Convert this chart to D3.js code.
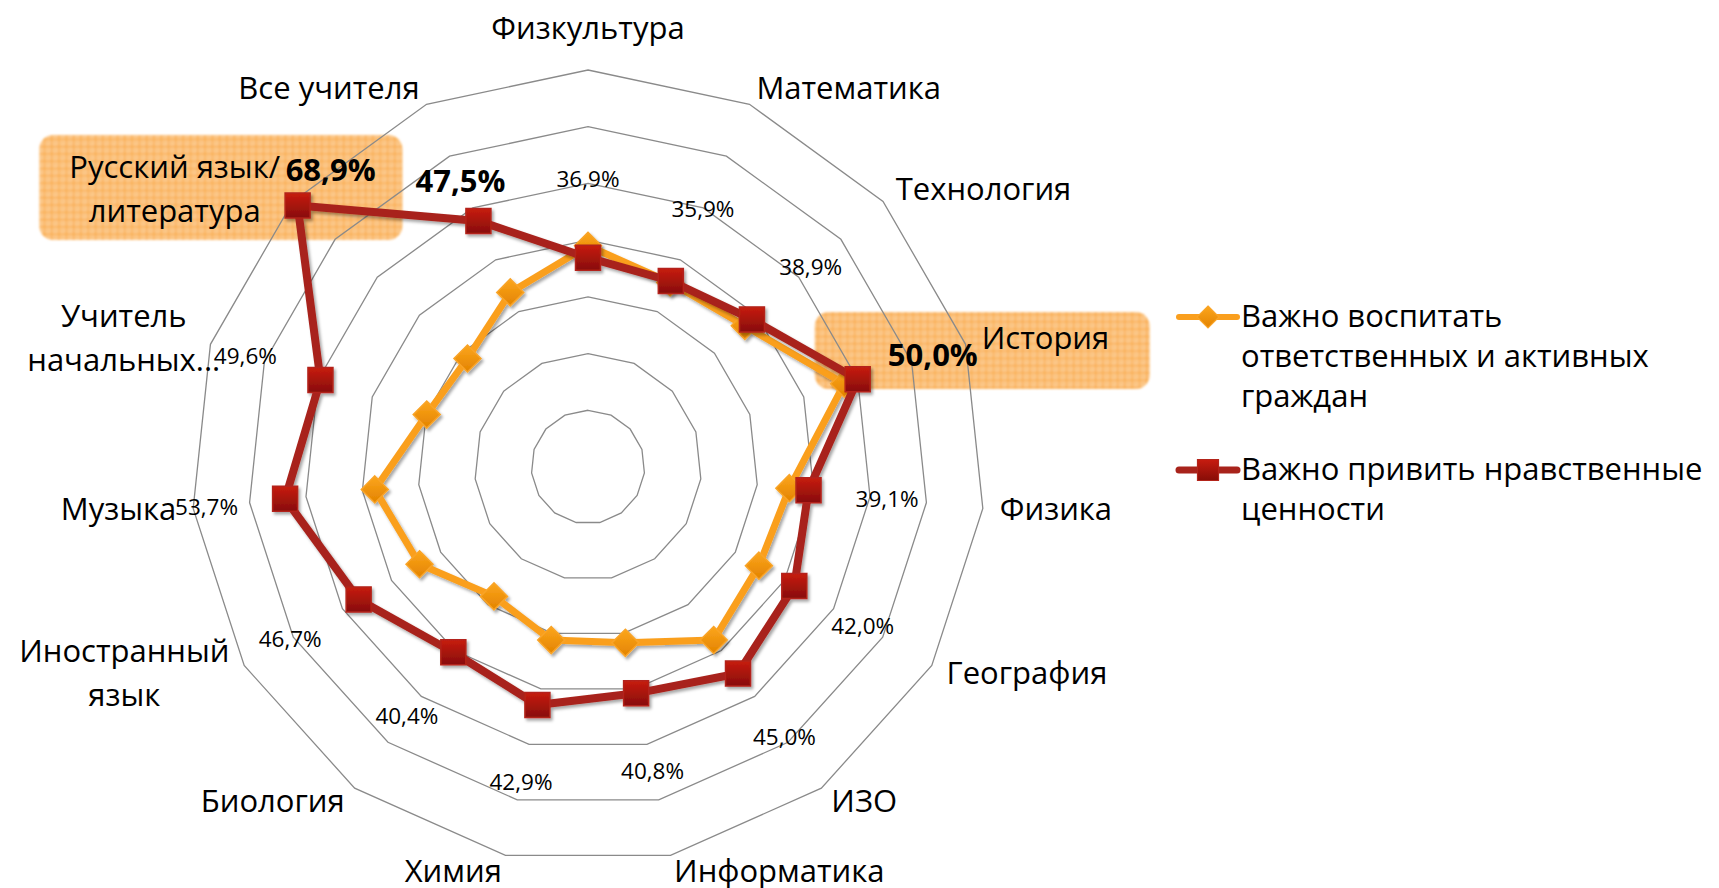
<!DOCTYPE html>
<html lang="ru">
<head>
<meta charset="utf-8">
<script src="https://cdn.jsdelivr.net/npm/d3@7"></script>
<style>
  html, body { margin: 0; padding: 0; background: #fff; }
  svg { display: block; font-family: "Open Sans", "Noto Sans", sans-serif; }
</style>
</head>
<body>
<div id="chart"></div>
<script>
// categories clockwise, starting at the top
const categories = ["Физкультура", "Математика", "Технология", "История", "Физика", "География", "ИЗО",
    "Информатика", "Химия", "Биология", "Иностранный язык", "Музыка", "Учитель начальных...",
    "Русский язык/литература", "Все учителя"];

// how the axis labels wrap
const categoryLines = [["Физкультура"], ["Математика"], ["Технология"], ["История"], ["Физика"],
    ["География"], ["ИЗО"], ["Информатика"], ["Химия"], ["Биология"], ["Иностранный", "язык"],
    ["Музыка"], ["Учитель", "начальных..."], ["Русский язык/", "литература"], ["Все учителя"]];

const seriesNames = ["Важно воспитать ответственных и активных граждан", "Важно привить нравственные ценности"];
const legendLines = [["Важно воспитать", "ответственных и активных", "граждан"],
    ["Важно привить нравственные", "ценности"]];

// % of teachers
const citizens = [39.0, 35.6, 37.2, 47.5, 35.7, 34.8, 37.7, 31.7, 31.2, 28.2, 34.3, 37.8, 29.9, 28.6, 33.7];
const morals = [36.9, 35.9, 38.9, 50.0, 39.1, 42.0, 45.0, 40.8, 42.9, 40.4, 46.7, 53.7, 49.6, 68.9, 47.5];

const gridTicks = [10, 20, 30, 40, 50, 60, 70];

const highlighted = ["История", "Русский язык/литература"];
const boldLabels = ["История", "Русский язык/литература", "Все учителя"];

// layout
const width = 1719;
const height = 888;
const cx = 588, cy = 467;
const radius = 397;
const labelGap = 17;
const valueGap = 79;

const ru = d3.formatLocale({ decimal: ",", thousands: " ", grouping: [3], currency: ["", " ₽"] });
const fmt = v => ru.format(".1f")(v) + "%";

const r = d3.scaleLinear().domain([0, 70]).range([0, radius]);
const angle = d3.scaleLinear().domain([0, categories.length]).range([0, 2 * Math.PI]);

const svg = d3.select("#chart")
    .append("svg")
    .attr("width", width)
    .attr("height", height);

const defs = svg.append("defs");

const pat = defs.append("pattern")
    .attr("id", "grid-fill")
    .attr("patternUnits", "userSpaceOnUse")
    .attr("width", 7.3).attr("height", 7.3);
pat.append("rect").attr("width", 7.3).attr("height", 7.3).attr("fill", "#fcc88a");
pat.append("path").attr("d", "M0,0.5H7.3M0.5,0V7.3").attr("stroke", "#f8a845").attr("stroke-width", 1.2);
pat.append("rect").attr("x", 3).attr("y", 3).attr("width", 1.4).attr("height", 1.4).attr("fill", "#fbb96a");

const soft = defs.append("filter").attr("id", "soft")
    .attr("x", "-5%").attr("y", "-10%").attr("width", "110%").attr("height", "120%");
soft.append("feGaussianBlur").attr("stdDeviation", 1.3);

const shadow = defs.append("filter").attr("id", "shadow")
    .attr("x", "-10%").attr("y", "-10%").attr("width", "130%").attr("height", "130%");
shadow.append("feDropShadow").attr("dx", 2).attr("dy", 2.5).attr("stdDeviation", 1.6)
    .attr("flood-color", "#000").attr("flood-opacity", 0.35);

const gRed = defs.append("linearGradient").attr("id", "g-red").attr("x1", 0).attr("y1", 0).attr("x2", 0).attr("y2", 1);
gRed.append("stop").attr("offset", "0%").attr("stop-color", "#c71c10");
gRed.append("stop").attr("offset", "100%").attr("stop-color", "#870d07");
const gOr = defs.append("linearGradient").attr("id", "g-orange").attr("x1", 0).attr("y1", 0).attr("x2", 0).attr("y2", 1);
gOr.append("stop").attr("offset", "0%").attr("stop-color", "#fca61c");
gOr.append("stop").attr("offset", "100%").attr("stop-color", "#e38300");

const boxLayer = svg.append("g");
const chart = svg.append("g").attr("transform", `translate(${cx},${cy})`);

// grid rings
const ring = d3.lineRadial()
    .angle((d, i) => angle(i))
    .radius(d => r(d))
    .curve(d3.curveLinearClosed);

chart.append("g").attr("class", "grid")
    .selectAll("path")
    .data(gridTicks)
    .enter().append("path")
    .attr("d", t => ring(categories.map(() => t)))
    .attr("fill", "none")
    .attr("stroke", "#8a8a8a")
    .attr("stroke-width", 1.3);

// highlight boxes behind the highlighted labels, relative to the label anchor
const boxPad = {
    "История": [-167, -27, 168, 50],
    "Русский язык/литература": [-241, -55, 122, 50]
};
highlighted.forEach(name => {
    const i = categories.indexOf(name);
    const p = d3.pointRadial(angle(i), radius + labelGap);
    const b = boxPad[name];
    boxLayer.append("rect")
        .attr("x", cx + p[0] + b[0])
        .attr("y", cy + p[1] + b[1])
        .attr("width", b[2] - b[0])
        .attr("height", b[3] - b[1])
        .attr("rx", 14)
        .attr("fill", "url(#grid-fill)")
        .attr("filter", "url(#soft)");
});

// series
const series = [
    { name: seriesNames[0], values: citizens, color: "#fa9f1e", width: 7, marker: "diamond" },
    { name: seriesNames[1], values: morals, color: "#a8231b", width: 8, marker: "square" }
];

const markerPath = (type, s) => type === "diamond"
    ? `M0,${-s}L${s},0L0,${s}L${-s},0Z`
    : `M${-s},${-s}H${s}V${s}H${-s}Z`;

series.forEach(s => {
    const g = chart.append("g").attr("filter", "url(#shadow)");
    g.append("path")
        .attr("d", ring(s.values))
        .attr("fill", "none")
        .attr("stroke", s.color)
        .attr("stroke-width", s.width)
        .attr("stroke-linejoin", "round");
    g.selectAll(".m")
        .data(s.values)
        .enter().append("path")
        .attr("class", "m")
        .attr("transform", (d, i) => "translate(" + d3.pointRadial(angle(i), r(d)) + ")")
        .attr("d", markerPath(s.marker, s.marker === "diamond" ? 13.5 : 12.5))
        .attr("fill", s.marker === "diamond" ? "url(#g-orange)" : "url(#g-red)")
        .attr("stroke", s.marker === "diamond" ? "#f9a428" : "#b3241a")
        .attr("stroke-width", 1.5);
});

// value labels (second series)
const valueNudge = {
    "Все учителя": { gap: 44, dx: 0, dy: 0 },
    "Русский язык/литература": { gap: 0, dx: 33, dy: -36 }
};
chart.append("g").selectAll("text")
    .data(morals)
    .enter().append("text")
    .each(function (d, i) {
        const name = categories[i];
        const n = valueNudge[name] || { gap: valueGap, dx: 0, dy: 0 };
        const p = d3.pointRadial(angle(i), r(d) + n.gap);
        const bold = boldLabels.includes(name);
        const fs = bold ? 31 : 22.5;
        d3.select(this)
            .attr("x", p[0] + n.dx)
            .attr("y", p[1] + n.dy + fs * 0.36)
            .attr("text-anchor", "middle")
            .attr("font-size", fs)
            .attr("font-weight", bold ? 700 : 400)
            .attr("fill", "#000")
            .text(fmt(d));
    });

// category labels
const labelNudge = { "Учитель начальных...": 26 };
const lineH = 44;
categories.forEach((name, i) => {
    const a = angle(i);
    const p = d3.pointRadial(a, radius + labelGap);
    const lines = categoryLines[i];
    const t = chart.append("text")
        .attr("font-size", 31)
        .attr("fill", "#000")
        .attr("text-anchor", "middle");
    lines.forEach((l, k) => {
        t.append("tspan")
            .attr("x", 0)
            .attr("y", (k - (lines.length - 1) / 2) * lineH)
            .text(l);
    });
    const w = t.node().getBBox().width;
    const s = Math.sin(a);
    let x = p[0], y = p[1] + 10;
    if (Math.abs(s) < 0.01) {
        y = p[1] - 14;
    } else {
        x = p[0] + (s > 0 ? w / 2 : -w / 2);
    }
    x += labelNudge[name] || 0;
    t.attr("transform", `translate(${x},${y})`);
});

// legend
const legend = svg.append("g").attr("transform", "translate(1179,317)");
let ly = 0;
series.forEach((s, k) => {
    const g = legend.append("g").attr("transform", `translate(0,${ly})`);
    g.append("line")
        .attr("x1", 0).attr("x2", 58)
        .attr("stroke", s.color)
        .attr("stroke-width", s.width - 1)
        .attr("stroke-linecap", "round");
    g.append("path")
        .attr("transform", "translate(29,0)")
        .attr("d", markerPath(s.marker, s.marker === "diamond" ? 11 : 10.5))
        .attr("fill", s.marker === "diamond" ? "url(#g-orange)" : "url(#g-red)")
        .attr("stroke", s.marker === "diamond" ? "#f9a428" : "#b3241a")
        .attr("stroke-width", 1.2);
    const t = g.append("text")
        .attr("font-size", 31)
        .attr("fill", "#000");
    legendLines[k].forEach((l, j) => {
        t.append("tspan").attr("x", 62).attr("y", 10 + j * 40).text(l);
    });
    ly += legendLines[k].length * 40 + 33;
});
</script>
</body>
</html>
